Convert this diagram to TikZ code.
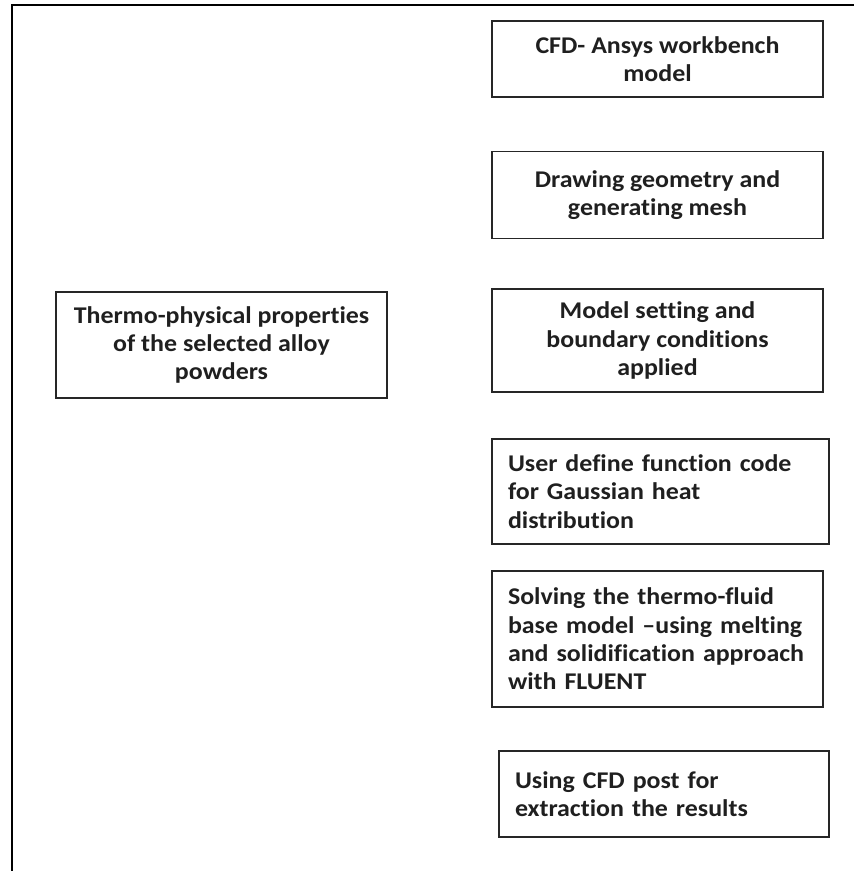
\documentclass[tikz,border=0pt]{standalone}
\usepackage{fontspec}
\setmainfont{Carlito}[Ligatures=NoCommon, FakeStretch=1.08]
\begin{document}
\begin{tikzpicture}[x=1pt,y=-1pt,
  box/.style={draw=black!85, line width=1.3pt, rectangle, inner ysep=0pt,
    font=\fontsize{24}{28.4}\selectfont\bfseries, text=black!88},
  cbox/.style={box, inner xsep=4pt, align=center},
  lbox/.style={box, inner xsep=16pt, align=left},
  frame/.style={line width=2.2pt}]
\useasboundingbox (0,0) rectangle (854,871);
\coordinate (fa) at (12,872);
\coordinate (fb) at (12,5);
\coordinate (fc) at (855,5);
\draw[frame] (fa) -- (fb) -- (fc);

\node[cbox, minimum width=331pt, minimum height=76pt] (b1) at (657.5,59)
  {CFD- Ansys workbench\\model};
\node[cbox, minimum width=331pt, minimum height=87pt] (b2) at (657.5,195)
  {Drawing geometry and\\generating mesh};
\node[cbox, minimum width=331pt, minimum height=103pt] (b3) at (657.5,340.5)
  {Model setting and\\boundary conditions\\applied};
\node[cbox, minimum width=331pt, minimum height=106pt] (b4) at (221.5,345)
  {Thermo-physical properties\\of the selected alloy\\powders};
\node[lbox, text width=305pt, minimum width=337pt, minimum height=105pt] (b5) at (660.5,491.5)
  {\mbox{User define function code}\\\mbox{for Gaussian heat}\\\mbox{distribution}};
\node[lbox, text width=299pt, minimum width=331pt, minimum height=136pt] (b6) at (657.5,639)
  {\mbox{Solving the thermo-fluid}\\\mbox{base model --using melting}\\\mbox{and solidification approach}\\\mbox{with FLUENT}};
\node[lbox, text width=298pt, minimum width=330pt, minimum height=86pt] (b7) at (664,794)
  {\mbox{Using CFD post for}\\\mbox{extraction the results}};
\end{tikzpicture}
\end{document}
